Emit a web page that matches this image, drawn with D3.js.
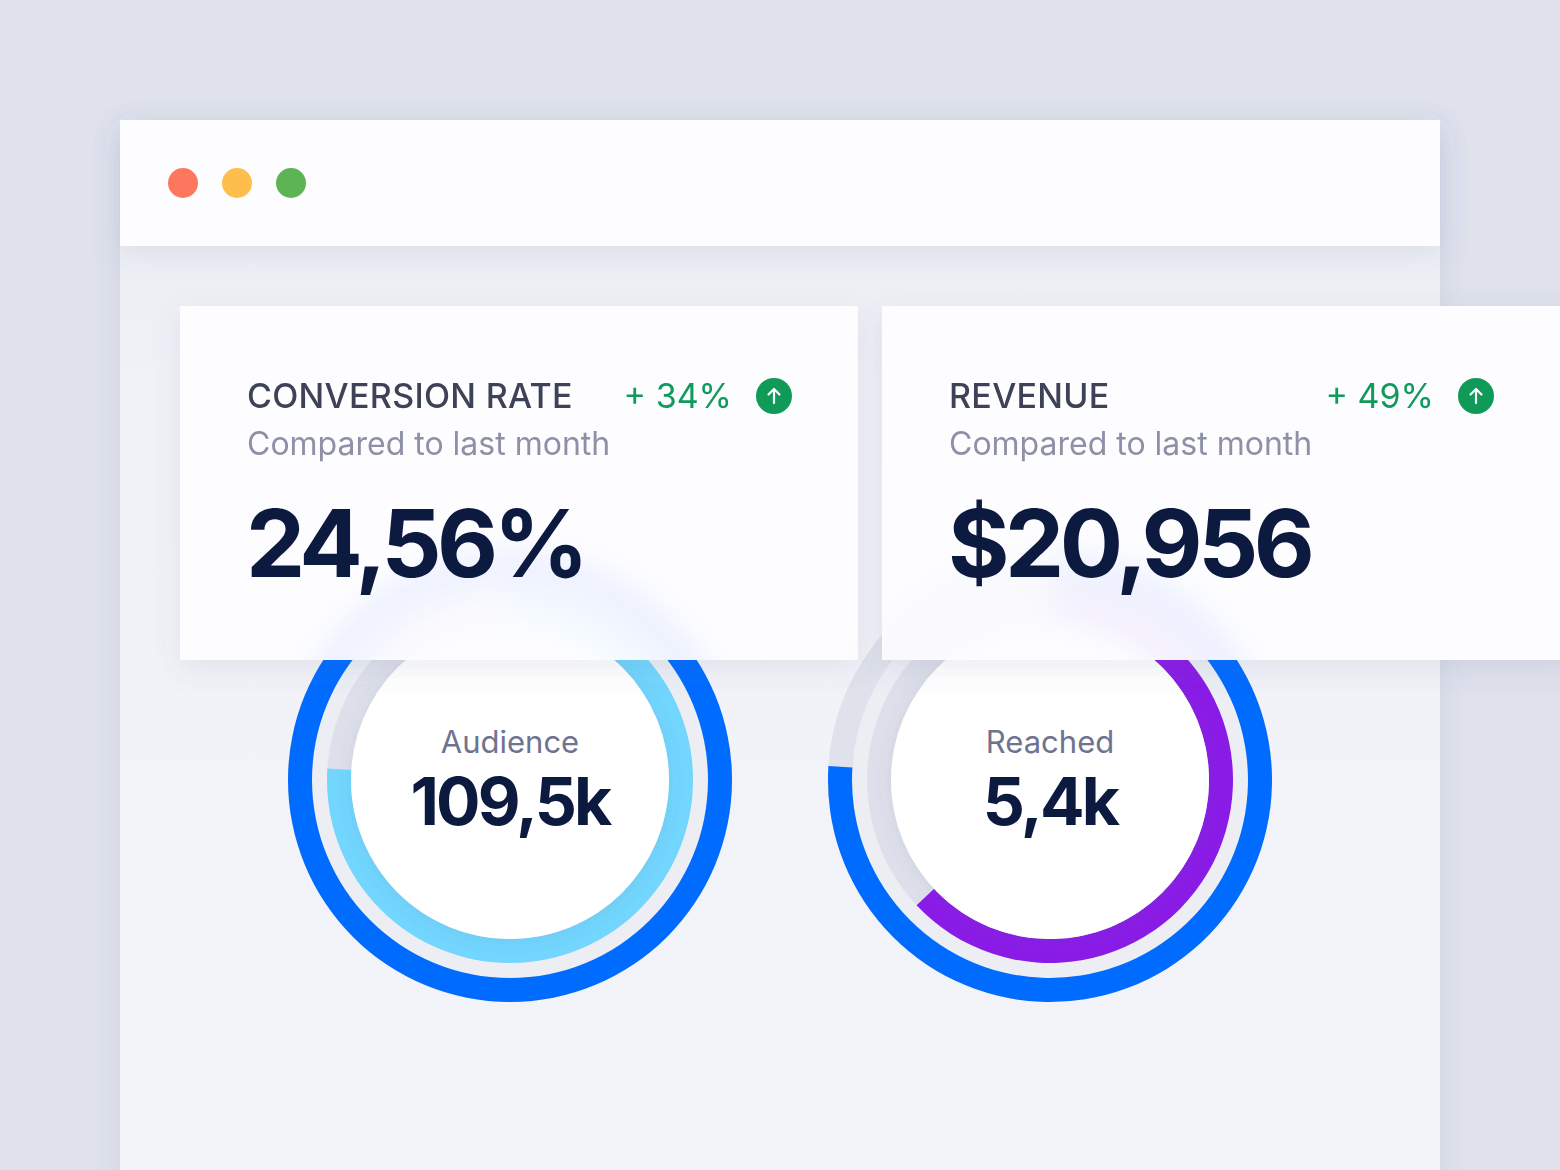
<!DOCTYPE html>
<html>
<head>
<meta charset="utf-8">
<script src="https://cdn.jsdelivr.net/npm/d3@7"></script>
<style>
  html, body { margin: 0; padding: 0; background: #dfe2ec; }
  svg { display: block; font-family: Inter, "Noto Sans", sans-serif; }
</style>
</head>
<body>
<div id="chart"></div>
<script>
// card data
var cardTitles = ["CONVERSION RATE", "REVENUE"];
var cardSubtitle = "Compared to last month";
var cardValues = ["24,56%", "$20,956"];
var cardChanges = ["+ 34%", "+ 49%"];

// ring data (share of a full turn)
var ringLabels = ["Audience", "Reached"];
var ringValues = ["109,5k", "5,4k"];
var outerShare = [1.0, 0.76];
var innerShare = [0.76, 0.63];

var outerColor = "#006bff";
var innerColors = ["#72d6fe", "#8a1be6"];
var dotColors = ["#fd775f", "#fdbe4b", "#5db455"];

var W = 1560, H = 1170;

var svg = d3.select("#chart")
  .append("svg")
  .attr("width", W)
  .attr("height", H);

var defs = svg.append("defs");

var shadow = defs.append("filter").attr("id", "shadow")
  .attr("x", "-20%").attr("y", "-20%").attr("width", "140%").attr("height", "160%");
shadow.append("feDropShadow").attr("dx", 0).attr("dy", 8).attr("stdDeviation", 14)
  .attr("flood-color", "#5a6190").attr("flood-opacity", 0.12);

var softShadow = defs.append("filter").attr("id", "softShadow")
  .attr("x", "-30%").attr("y", "-30%").attr("width", "160%").attr("height", "160%");
softShadow.append("feDropShadow").attr("dx", 0).attr("dy", 2).attr("stdDeviation", 8)
  .attr("flood-color", "#5a6190").attr("flood-opacity", 0.12);

var blur = defs.append("filter").attr("id", "blur")
  .attr("x", "-20%").attr("y", "-20%").attr("width", "140%").attr("height", "140%");
blur.append("feGaussianBlur").attr("stdDeviation", 16);

var bodyGrad = defs.append("linearGradient").attr("id", "bodyGrad")
  .attr("x1", 0).attr("y1", 0).attr("x2", 0).attr("y2", 1);
bodyGrad.append("stop").attr("offset", "0%").attr("stop-color", "#e9ebf2");
bodyGrad.append("stop").attr("offset", "25%").attr("stop-color", "#f1f2f7");
bodyGrad.append("stop").attr("offset", "100%").attr("stop-color", "#f3f4f9");

// window
svg.append("rect").attr("x", 120).attr("y", 120).attr("width", 1320).attr("height", 1080)
  .attr("fill", "url(#bodyGrad)").attr("filter", "url(#shadow)");
svg.append("rect").attr("x", 120).attr("y", 120).attr("width", 1320).attr("height", 126)
  .attr("fill", "#fdfcff").attr("filter", "url(#shadow)");

svg.selectAll(".dot")
  .data(dotColors)
  .enter().append("circle")
  .attr("class", "dot")
  .attr("cx", function(d, i) { return 183 + i * 54; })
  .attr("cy", 183)
  .attr("r", 15)
  .attr("fill", function(d) { return d; });

// rings
var angle = d3.scaleLinear().domain([0, 1]).range([0, 2 * Math.PI]);
var ringX = d3.scalePoint().domain(ringLabels).range([510, 1050]);
var cy = 780;

var outerArc = d3.arc().innerRadius(198).outerRadius(222);
var innerArc = d3.arc().innerRadius(159).outerRadius(183);

var rings = svg.append("g").attr("id", "rings");

var ring = rings.selectAll(".ring")
  .data(ringLabels)
  .enter().append("g")
  .attr("class", "ring")
  .attr("transform", function(d) { return "translate(" + ringX(d) + "," + cy + ")"; });

ring.append("circle").attr("r", 222).attr("fill", "#eceef4");
ring.append("path")
  .attr("d", outerArc({ startAngle: 0, endAngle: 2 * Math.PI }))
  .attr("fill", "#dfe2eb");
ring.append("path")
  .attr("d", innerArc({ startAngle: 0, endAngle: 2 * Math.PI }))
  .attr("fill", "#dde0ea");
ring.append("path")
  .attr("d", function(d, i) { return outerArc({ startAngle: 0, endAngle: angle(outerShare[i]) }); })
  .attr("fill", outerColor);
ring.append("path")
  .attr("d", function(d, i) { return innerArc({ startAngle: 0, endAngle: angle(innerShare[i]) }); })
  .attr("fill", function(d, i) { return innerColors[i]; });
ring.append("circle").attr("r", 159).attr("fill", "#ffffff").attr("filter", "url(#softShadow)");

ring.append("text")
  .attr("text-anchor", "middle")
  .attr("y", -27)
  .attr("font-size", 31)
  .attr("fill", "#6e7390")
  .text(function(d) { return d; });
ring.append("text")
  .attr("text-anchor", "middle")
  .attr("y", 45)
  .attr("font-size", 66)
  .attr("font-weight", 700)
  .attr("letter-spacing", -2.8)
  .attr("fill", "#0c1a40")
  .text(function(d, i) { return ringValues[i]; });

// cards
var cardX = [180, 882];
var cardW = [678, 700];
var cardY = 306, cardH = 354;

cardTitles.forEach(function(t, i) {
  defs.append("clipPath").attr("id", "clip" + i)
    .append("rect").attr("x", cardX[i]).attr("y", cardY).attr("width", cardW[i]).attr("height", cardH);
});

var card = svg.selectAll(".card")
  .data(cardTitles)
  .enter().append("g")
  .attr("class", "card");

card.append("rect")
  .attr("x", function(d, i) { return cardX[i]; })
  .attr("y", cardY)
  .attr("width", function(d, i) { return cardW[i]; })
  .attr("height", cardH)
  .attr("fill", "#fdfdff")
  .attr("filter", "url(#shadow)");

// frosted glass: blurred rings showing through
card.append("g")
  .attr("clip-path", function(d, i) { return "url(#clip" + i + ")"; })
  .append("use")
  .attr("href", "#rings")
  .attr("filter", "url(#blur)")
  .attr("opacity", 0.13);

card.append("text")
  .attr("x", function(d, i) { return cardX[i] + 67; })
  .attr("y", 408)
  .attr("font-size", 34)
  .attr("font-weight", 500)
  .attr("letter-spacing", 0.3)
  .attr("fill", "#3e4257")
  .text(function(d) { return d; });

card.append("text")
  .attr("x", function(d, i) { return cardX[i] + 67; })
  .attr("y", 455)
  .attr("font-size", 32)
  .attr("fill", "#8d90a6")
  .text(cardSubtitle);

card.append("text")
  .attr("x", function(d, i) { return cardX[i] + 66; })
  .attr("y", 577)
  .attr("font-size", 94)
  .attr("font-weight", 700)
  .attr("letter-spacing", -4.5)
  .attr("fill", "#0c1a40")
  .text(function(d, i) { return cardValues[i]; });

card.append("text")
  .attr("x", function(d, i) { return cardX[i] + 552; })
  .attr("y", 408)
  .attr("text-anchor", "end")
  .attr("font-size", 34)
  .attr("fill", "#109a5b")
  .text(function(d, i) { return cardChanges[i]; });

var badge = card.append("g")
  .attr("transform", function(d, i) { return "translate(" + (cardX[i] + 594) + ",396)"; });
badge.append("circle").attr("r", 18).attr("fill", "#0f9a58");
badge.append("path")
  .attr("d", "M0,7 L0,-7 M-5.5,-1.5 L0,-7 L5.5,-1.5")
  .attr("fill", "none")
  .attr("stroke", "#ffffff")
  .attr("stroke-width", 2.2)
  .attr("stroke-linecap", "round")
  .attr("stroke-linejoin", "round");
</script>
</body>
</html>
